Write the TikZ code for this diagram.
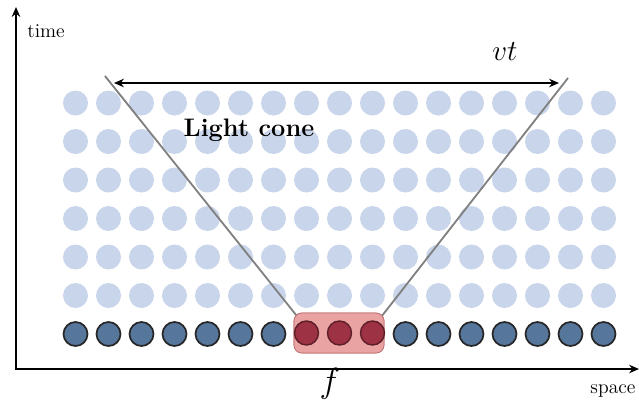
\documentclass[tikz,border=0pt]{standalone}
\usepackage{amsmath}
\usetikzlibrary{arrows.meta,positioning,calc}
\definecolor{dotlight}{HTML}{C9D5EA}
\definecolor{dotdark}{HTML}{56769C}
\definecolor{dotred}{HTML}{9C3244}
\definecolor{boxred}{HTML}{E9A3A3}
\tikzset{
  lightdot/.style={circle,fill=dotlight,minimum size=0.625cm,inner sep=0pt},
  darkdot/.style={circle,draw=black!85,line width=1.2pt,fill=dotdark,minimum size=0.6cm,inner sep=0pt},
  reddot/.style={circle,draw=dotred!60!black,line width=1pt,fill=dotred,minimum size=0.6cm,inner sep=0pt},
  redbox/.style={rectangle,rounded corners=0.2cm,draw=boxred!85!red!80!black,line width=0.5pt,fill=boxred,minimum width=2.25cm,minimum height=1cm},
  axis/.style={line width=1.8pt,-{Stealth[length=7pt,width=6pt]}},
  cone/.style={line width=1.3pt,draw=black!50},
  spanarrow/.style={line width=1.6pt,{Stealth[length=7pt,width=6pt]}-{Stealth[length=7pt,width=6pt]}},
  axislabel/.style={font=\fontsize{14}{16}\selectfont},
}
\begin{document}
\begin{tikzpicture}[x=0.025cm,y=-0.025cm]
  \useasboundingbox (0,0) rectangle (639,404);

  % light dots
  \foreach \c in {0,...,16} {
    \foreach \r in {0,...,5} {
      \node[lightdot] (l-\c-\r) at ({75.5+33*\c},{103+38.5*\r}) {};
    }
  }

  % cone
  \node[redbox] (fbox) at (339,333) {};
  \coordinate (cone-l) at (105,76);
  \coordinate (cone-r) at (568,78);
  \draw[cone] (cone-l) -- ($(fbox.north west)+(3,3)$);
  \draw[cone] (cone-r) -- ($(fbox.north east)+(-3,4)$);
  \node[redbox] at (fbox) {};

  % bottom row
  \foreach \c in {0,1,2,3,4,5,6,10,11,12,13,14,15,16} {
    \node[darkdot] (d-\c) at ({75.5+33*\c},334) {};
  }
  \foreach \c in {7,8,9} {
    \node[reddot] (d-\c) at ({75.5+33*\c},333) {};
  }

  % axes
  \coordinate (origin) at (16,369);
  \coordinate (time-top) at (16,7);
  \coordinate (space-end) at (639,369);
  \draw[axis] (origin) -- (time-top);
  \draw[axis] ($(origin)+(-1,0)$) -- (space-end);
  \node[axislabel] (time) at (46,31) {time};
  \node[axislabel] (space) at (613,391) {space};

  % span
  \coordinate (vt-l) at (114,83);
  \coordinate (vt-r) at (559,83);
  \draw[spanarrow] (vt-l) -- (vt-r);
  \node[font=\fontsize{21}{24}\selectfont] (vt) at (505,52) {$vt$};
  \node[font=\fontsize{18}{20}\selectfont\bfseries] (lc) at (249,130) {Light cone};
  \node[font=\fontsize{24}{26}\selectfont] (f) at (330,384) {$f$};
\end{tikzpicture}
\end{document}
